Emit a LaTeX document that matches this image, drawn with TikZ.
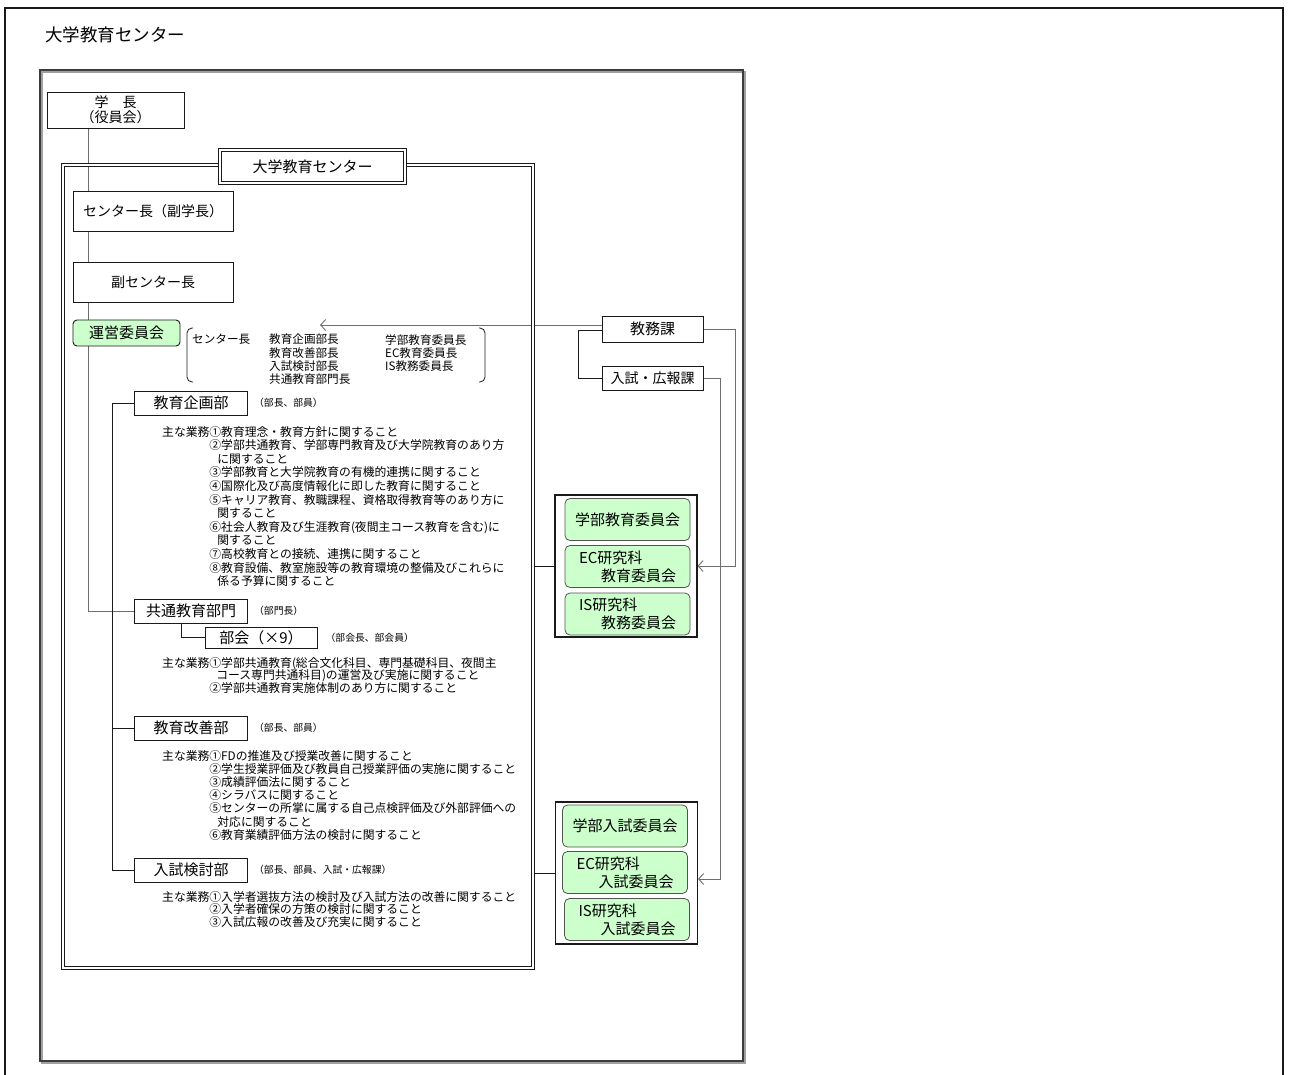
\documentclass[tikz,border=0pt]{standalone}
\usepackage{fontspec}
\setmainfont{Noto Sans CJK JP}
\usetikzlibrary{arrows.meta,positioning}
\pgfdeclarelayer{background}
\pgfsetlayers{background,main}
\definecolor{ink}{HTML}{1A1A1A}
\definecolor{wire}{HTML}{6E6E6E}
\definecolor{leaf}{HTML}{CCFFCC}
\definecolor{shadowgray}{HTML}{A0A0A0}
\tikzset{
  unit/.style={draw=ink,fill=white,line width=0.9pt,align=center,inner sep=0pt,
    font=\fontsize{14}{16}\selectfont},
  dept/.style={unit,minimum width=113pt,minimum height=24pt,font=\fontsize{15}{17}\selectfont},
  council/.style={draw=ink!75,fill=leaf,rounded corners=5pt,line width=0.8pt,align=left,
    inner sep=0pt,minimum width=125pt,minimum height=42pt,font=\fontsize{15}{18}\selectfont},
  group/.style={draw=ink,fill=white,line width=1.1pt,minimum width=142pt,minimum height=142pt,inner sep=0pt},
  note/.style={font=\fontsize{9.8}{11}\selectfont,inner sep=0pt,anchor=west},
  duty/.style={inner sep=0pt,align=left,anchor=north west},
  member/.style={font=\fontsize{11.6}{13.3}\selectfont,inner sep=0pt,align=left,anchor=north west},
  link/.style={draw=ink,line width=0.9pt},
  feed/.style={draw=wire,line width=0.9pt,-{Straight Barb[length=5pt,width=11pt]}},
  twin/.style={draw=ink,double=white,double distance=1.6pt,line width=0.8pt}
}
\newcommand{\gyoind}{\hphantom{主な業務}}

\begin{document}
\begin{tikzpicture}[x=1pt,y=-1pt]
  \useasboundingbox (0,0) rectangle (1294,1075);
  % page frame and sheet
  \draw[ink,line width=2.4pt] (5,1075) -- (5,8) -- (1283,8) -- (1283,1075);
  \node[anchor=west,inner sep=0pt,font=\fontsize{17.5}{19}\selectfont] (title) at (45,35) {大学教育センター};
  \draw[shadowgray,line width=1.2pt] (42,72) rectangle (745,1063);
  \node[draw=ink!85,line width=1.2pt,minimum width=703pt,minimum height=991pt,inner sep=0pt] (sheet) at (391.5,565.5) {};

  % center frame
  \node[twin,minimum width=470pt,minimum height=803pt,inner sep=0pt] (center) at (298,566.5) {};
  \node[unit,twin,minimum width=185pt,minimum height=33pt,font=\fontsize{15}{17}\selectfont] (ctitle) at (312.5,166.5) {大学教育センター};

  \node[unit,minimum width=137pt,minimum height=36pt,font=\fontsize{14}{15}\selectfont] (gakucho) at (115.5,110) {学　長\\（役員会）};
  \node[unit,minimum width=160pt,minimum height=40pt] (chief) at (153,211) {センター長（副学長）};
  \node[unit,minimum width=160pt,minimum height=40pt] (vice) at (153,282) {副センター長};
  \node[unit,fill=leaf,rounded corners=4pt,minimum width=107pt,minimum height=26pt,font=\fontsize{15}{17}\selectfont] (unei) at (126.5,333) {運営委員会};

  % steering committee members
  \node[member] (mem1) at (192,334) {センター長};
  \node[member] (mem2) at (269,334) {教育企画部長\\教育改善部長\\入試検討部長\\共通教育部門長};
  \node[member] (mem3) at (385,334) {学部教育委員長\\EC教育委員長\\IS教務委員長};
  \draw[link,line width=0.8pt,rounded corners=5pt] (193,328) -- (187,328) -- (187,382) -- (193,382);
  \draw[link,line width=0.8pt,rounded corners=5pt] (479,328) -- (485,328) -- (485,382) -- (479,382);

  % departments
  \node[dept] (kikaku) at (191,403) {教育企画部};
  \node[note,right=6pt of kikaku] (kikakunote) {（部長、部員）};
  \node[duty,font=\fontsize{11.8}{13.6}\selectfont] (kikakuduty) at (162,426) {主な業務①教育理念・教育方針に関すること\\
    \gyoind{}②学部共通教育、学部専門教育及び大学院教育のあり方\\
    \gyoind{}\hspace{8pt}に関すること\\
    \gyoind{}③学部教育と大学院教育の有機的連携に関すること\\
    \gyoind{}④国際化及び高度情報化に即した教育に関すること\\
    \gyoind{}⑤キャリア教育、教職課程、資格取得教育等のあり方に\\
    \gyoind{}\hspace{8pt}関すること\\
    \gyoind{}⑥社会人教育及び生涯教育(夜間主コース教育を含む)に\\
    \gyoind{}\hspace{8pt}関すること\\
    \gyoind{}⑦高校教育との接続、連携に関すること\\
    \gyoind{}⑧教育設備、教室施設等の教育環境の整備及びこれらに\\
    \gyoind{}\hspace{8pt}係る予算に関すること};

  \node[dept] (kyotsu) at (191,611) {共通教育部門};
  \node[note,right=6pt of kyotsu] (kyotsunote) {（部門長）};
  \node[dept,minimum width=112pt,minimum height=21pt] (bukai) at (261,637.5) {部会（×9）};
  \node[note,right=8pt of bukai] (bukainote) {（部会長、部会員）};
  \node[duty,font=\fontsize{11.8}{12.6}\selectfont] (kyotsuduty) at (162,657) {主な業務①学部共通教育(総合文化科目、専門基礎科目、夜間主\\
    \gyoind{}\hspace{7pt}コース専門共通科目)の運営及び実施に関すること\\
    \gyoind{}②学部共通教育実施体制のあり方に関すること};

  \node[dept] (kaizen) at (191,728) {教育改善部};
  \node[note,right=6pt of kaizen] (kaizennote) {（部長、部員）};
  \node[duty,font=\fontsize{11.8}{13.2}\selectfont] (kaizenduty) at (162,750) {主な業務①FDの推進及び授業改善に関すること\\
    \gyoind{}②学生授業評価及び教員自己授業評価の実施に関すること\\
    \gyoind{}③成績評価法に関すること\\
    \gyoind{}④シラバスに関すること\\
    \gyoind{}⑤センターの所掌に属する自己点検評価及び外部評価への\\
    \gyoind{}\hspace{8pt}対応に関すること\\
    \gyoind{}⑥教育業績評価方法の検討に関すること};

  \node[dept] (kento) at (191,870) {入試検討部};
  \node[note,right=6pt of kento] (kentonote) {（部長、部員、入試・広報課）};
  \node[duty,font=\fontsize{11.8}{12.6}\selectfont] (kentoduty) at (162,891) {主な業務①入学者選抜方法の検討及び入試方法の改善に関すること\\
    \gyoind{}②入学者確保の方策の検討に関すること\\
    \gyoind{}③入試広報の改善及び充実に関すること};

  % offices
  \node[unit,minimum width=101pt,minimum height=26pt,font=\fontsize{15}{17}\selectfont] (kyomu) at (652.5,329) {教務課};
  \node[unit,minimum width=101pt,minimum height=24pt] (koho) at (652.5,378) {入試・広報課};
  \coordinate (uneiin) at (320,325);

  % committees
  \node[group] (grp1) at (626,566) {};
  \node[council,align=center] (g1a) at (627.5,519.5) {学部教育委員会};
  \node[council] (g1b) at (627.5,566.5) {EC研究科\\\hspace{22pt}教育委員会};
  \node[council] (g1c) at (627.5,614) {IS研究科\\\hspace{22pt}教務委員会};
  \node[group] (grp2) at (626.5,873) {};
  \node[council,align=center] (g2a) at (625,826) {学部入試委員会};
  \node[council] (g2b) at (625,872.5) {EC研究科\\\hspace{22pt}入試委員会};
  \node[council] (g2c) at (627,919.5) {IS研究科\\\hspace{22pt}入試委員会};

  \coordinate (trunk) at (88,128);
  \begin{pgfonlayer}{background}
    \draw[wire] (trunk) |- (kyotsu.west);
    \draw[link] (kikaku.west) -- ++(-22,0) coordinate (spine) |- (kento.west);
    \draw[link] (kaizen.west) -- (kaizen.west -| spine);
    \draw[link] ([xshift=-10pt]kyotsu.south) |- (bukai.west);
    \draw[link] ([yshift=-1pt]kyomu.west) -- ++(-23,0) |- (koho.west);
    \draw[feed] ([yshift=4pt]kyomu.west) -- (uneiin);
    \draw[feed] (kyomu.east) -- ++(32,0) |- (grp1.east);
    \draw[feed] (koho.east) -- ++(17,0) |- ([yshift=-6pt]grp2.east);
    \draw[link] (center.east |- grp1.west) -- (grp1.west);
    \draw[link] (center.east |- grp2.west) -- (grp2.west);
  \end{pgfonlayer}
\end{tikzpicture}
\end{document}
